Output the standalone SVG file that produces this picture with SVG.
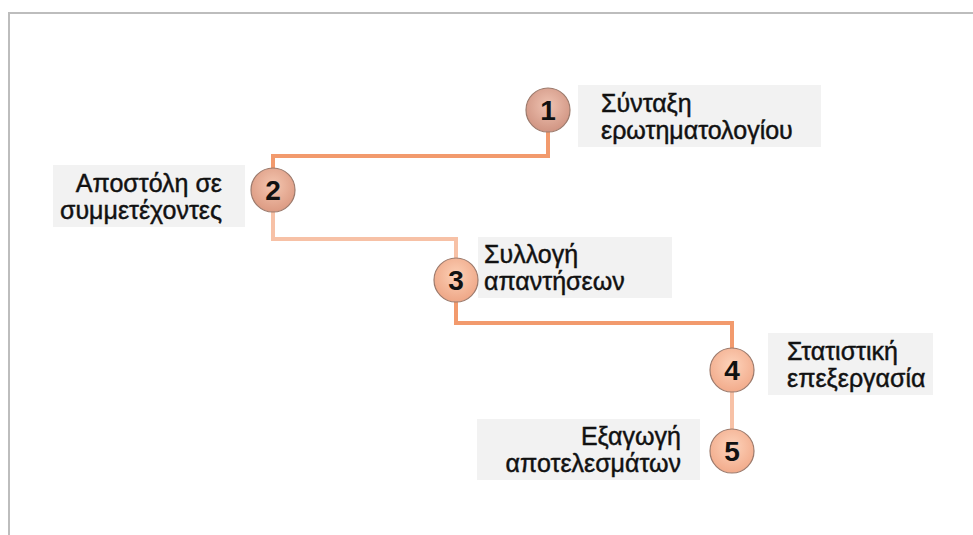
<svg xmlns="http://www.w3.org/2000/svg" width="973" height="535" viewBox="0 0 973 535">
  <defs>
    <radialGradient id="g1" cx="50%" cy="40%" r="60%">
      <stop offset="0" stop-color="#efc3b2"/>
      <stop offset="1" stop-color="#d09482"/>
    </radialGradient>
    <radialGradient id="g2" cx="50%" cy="40%" r="60%">
      <stop offset="0" stop-color="#f4c6b0"/>
      <stop offset="1" stop-color="#dc9a82"/>
    </radialGradient>
    <radialGradient id="g3" cx="50%" cy="40%" r="60%">
      <stop offset="0" stop-color="#fcd0b6"/>
      <stop offset="1" stop-color="#eea686"/>
    </radialGradient>
    <radialGradient id="g4" cx="50%" cy="40%" r="60%">
      <stop offset="0" stop-color="#fdd3bb"/>
      <stop offset="1" stop-color="#f2ab8b"/>
    </radialGradient>
  </defs>
  <style>
    .frame { fill: none; stroke: #bdbdbd; stroke-width: 2; }
    .box { fill: #f2f2f2; }
    .lbl { font-family: "Liberation Sans", Arial, sans-serif; font-size: 25px; fill: #111; stroke: #111; stroke-width: 0.45; }
    .num { font-family: "Liberation Sans", Arial, sans-serif; font-size: 28px; font-weight: bold; fill: #111; text-anchor: middle; }
    .ring { stroke: #9c7a6c; stroke-width: 1.2; }
    .c-dark { fill: none; stroke: #f29a6d; stroke-width: 4; }
    .c-light { fill: none; stroke: #f7c1a6; stroke-width: 4; }
    .end { text-anchor: end; }
  </style>
  <rect x="0" y="0" width="973" height="535" fill="#ffffff"/>
  <path class="frame" d="M9 536 V13 H975"/>

  <g id="connectors">
    <path class="c-dark" d="M548 130 V156 H273 V170"/>
    <path class="c-light" d="M273 210 V239 H456 V260"/>
    <path class="c-dark" d="M456 300 V323 H732 V350"/>
    <path class="c-light" d="M732 390 V432"/>
  </g>

  <g id="node1">
    <rect class="box" x="578" y="85" width="243" height="62"/>
    <text class="lbl" x="601" y="112">Σύνταξη</text>
    <text class="lbl" x="601" y="139">ερωτηματολογίου</text>
    <circle class="ring" cx="548" cy="110" r="22" fill="url(#g1)"/>
    <text class="num" x="548" y="120">1</text>
  </g>

  <g id="node2">
    <rect class="box" x="53" y="165" width="192" height="62"/>
    <text class="lbl end" x="222" y="192">Αποστόλη σε</text>
    <text class="lbl end" x="222" y="219">συμμετέχοντες</text>
    <circle class="ring" cx="273" cy="190" r="22" fill="url(#g2)"/>
    <text class="num" x="273" y="200">2</text>
  </g>

  <g id="node3">
    <rect class="box" x="478" y="237" width="194" height="61"/>
    <text class="lbl" x="484" y="263">Συλλογή</text>
    <text class="lbl" x="484" y="290">απαντήσεων</text>
    <circle class="ring" cx="456" cy="280" r="22" fill="url(#g3)"/>
    <text class="num" x="456" y="290">3</text>
  </g>

  <g id="node4">
    <rect class="box" x="768" y="333" width="165" height="62"/>
    <text class="lbl" x="787" y="360">Στατιστική</text>
    <text class="lbl" x="787" y="387">επεξεργασία</text>
    <circle class="ring" cx="732" cy="370" r="22" fill="url(#g4)"/>
    <text class="num" x="732" y="380">4</text>
  </g>

  <g id="node5">
    <rect class="box" x="477" y="419" width="223" height="61"/>
    <text class="lbl end" x="681" y="445">Εξαγωγή</text>
    <text class="lbl end" x="681" y="472">αποτελεσμάτων</text>
    <circle class="ring" cx="732" cy="451" r="22" fill="url(#g4)"/>
    <text class="num" x="732" y="461">5</text>
  </g>
</svg>
